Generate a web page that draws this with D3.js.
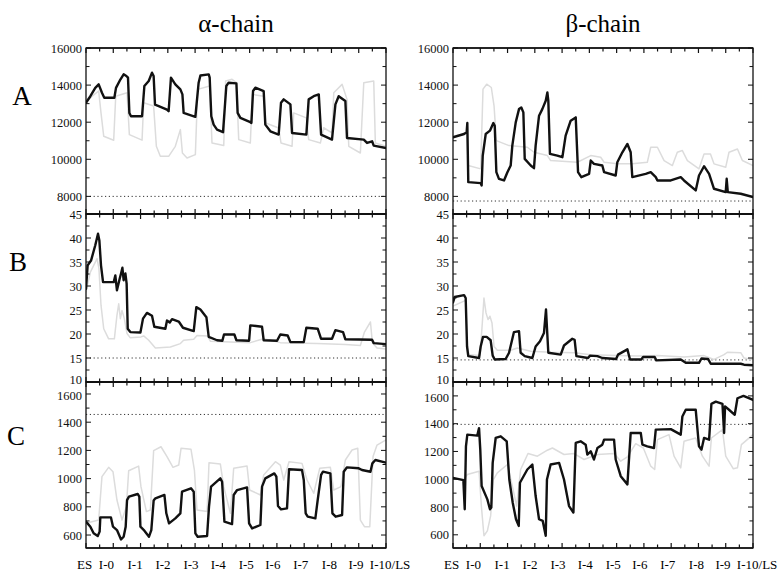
<!DOCTYPE html>
<meta charset="utf-8">
<style>
	body { margin: 0; background: #fff; }
	svg { display: block; font-family: "Liberation Serif", "DejaVu Serif", serif; }
	text { font-family: "Liberation Serif", "DejaVu Serif", serif; }
	.trace { fill: none; stroke-linejoin: round; stroke-linecap: round; }
	.black { stroke: #111; stroke-width: 2.4; }
	.grey { stroke: #dcdcdc; stroke-width: 1.5; }
	.ref { stroke: #333; stroke-width: 1; stroke-dasharray: 1.2,2.6; }
	.frame { fill: none; stroke: #111; stroke-width: 1.3; }
	.tick line { stroke: #111; }
	.tick text { font-size: 12.5px; fill: #111; font-family: "Liberation Serif", "DejaVu Serif", serif; }
</style>
<body>
<svg width="781" height="571"></svg>
<script src="https://cdn.jsdelivr.net/npm/d3@7"></script>
<script>

// x axis: time units, one tick per unit, phase labels
var xTicks = d3.range(0, 23);
var phases = ["ES", "I-0", "I-1", "I-2", "I-3", "I-4", "I-5", "I-6", "I-7", "I-8", "I-9", "I-10/LS"];
var phasePos = [-0.1, 1.5, 3.6, 5.65, 7.7, 9.7, 11.75, 13.7, 15.75, 17.85, 19.8, 22.3];

var titles = ["\u03b1-chain", "\u03b2-chain"];
var rowLabels = ["A", "B", "C"];

// y tick labels per row
var ticksA = [8000, 10000, 12000, 14000, 16000];
var ticksB = [10, 15, 20, 25, 30, 35, 40, 45];
var ticksC = [600, 800, 1000, 1200, 1400, 1600];

// dotted reference levels (alpha, beta)
var alphaRef = [8000, 15, 1455];
var betaRef = [7750, 14.6, 1395];

// ---- alpha-chain traces ----
var alphaA = [[0,13050],[0.32,13400],[0.68,13850],[0.93,14040],[1.17,13590],[1.34,13320],[2.08,13320],[2.2,13850],[2.52,14300],[2.76,14580],[2.96,14490],[3.08,14400],[3.18,12500],[3.3,12320],[4.11,12320],[4.28,13950],[4.6,14220],[4.84,14670],[4.96,14490],[5.06,12950],[5.33,12870],[5.94,12680],[6.06,12590],[6.23,14400],[6.55,14040],[6.92,13770],[7.07,13500],[7.16,12500],[7.53,12410],[8.02,12290],[8.26,14130],[8.39,14520],[9.0,14580],[9.07,14400],[9.19,12320],[9.36,11870],[9.61,11600],[10.05,11460],[10.29,13950],[10.46,14130],[11.03,14090],[11.12,12500],[11.32,12230],[12.05,12000],[12.13,11960],[12.25,13680],[12.42,13860],[13.03,13680],[13.15,11870],[13.52,11510],[14.13,11330],[14.3,13050],[14.5,13230],[14.99,12960],[15.11,11420],[16.16,11330],[16.33,13230],[16.7,13400],[17.07,13500],[17.24,11330],[18.04,11060],[18.29,12960],[18.53,13400],[19.02,13140],[19.14,11150],[20.37,11060],[20.61,10880],[20.98,10970],[21.1,10740],[22,10610]];
var alphaAGrey = [[0,13140],[0.93,13680],[1.1,12500],[1.3,11240],[2.03,11030],[2.18,13400],[3.01,13590],[3.18,11330],[4.11,11030],[4.23,13050],[4.96,12870],[5.16,10700],[5.45,10160],[6.06,10160],[6.55,10700],[6.92,11600],[7.07,10340],[7.41,10070],[8.02,10250],[8.19,13770],[9.07,13950],[9.24,10880],[10.1,10740],[10.24,14220],[10.71,14310],[11.03,14130],[11.2,11060],[12.05,10880],[12.2,13500],[13.03,13400],[13.18,11960],[14.13,11690],[14.3,10880],[15.11,10700],[15.23,12500],[16.16,12230],[16.33,11060],[17.19,10880],[17.43,11700],[18.04,11420],[18.17,13590],[18.78,14040],[19.14,13230],[19.27,10700],[20.12,10340],[20.37,14130],[21.1,14220],[21.22,10880],[22,10700]];

var alphaB = [[0,29.4],[0.12,34.3],[0.37,35.3],[0.68,38.5],[0.88,40.9],[0.98,39.5],[1.1,34.3],[1.25,30.8],[2.03,30.8],[2.15,32.2],[2.27,29.1],[2.47,31.5],[2.57,32.6],[2.67,33.8],[2.76,31.2],[2.89,32.6],[2.98,30.5],[3.06,21.1],[3.25,20.4],[3.99,20.3],[4.18,23.2],[4.47,24.4],[4.84,23.8],[5.01,21.5],[5.82,21.1],[5.94,22.8],[6.14,22.4],[6.31,23.1],[6.8,22.6],[7.11,21.3],[7.9,20.6],[8.09,25.6],[8.39,25.1],[8.83,23.5],[9.0,19.4],[9.61,18.7],[10.0,18.6],[10.12,19.9],[10.88,19.9],[11.03,18.7],[11.96,18.6],[12.05,21.8],[12.91,21.5],[13.03,18.7],[14.01,18.6],[14.25,19.9],[14.79,19.7],[14.99,18.3],[15.97,18.3],[16.16,21.3],[16.99,21.1],[17.24,19.0],[18.04,19.0],[18.29,20.8],[18.85,20.4],[19.02,18.9],[20.98,18.8],[21.1,18.1],[22,17.9]];
var alphaBGrey = [[0,28.8],[0.32,32.9],[0.81,35.7],[0.95,33.6],[1.1,26.0],[1.3,21.1],[1.66,19.0],[2.08,19.0],[2.27,23.9],[2.4,26.3],[2.52,23.2],[2.64,24.9],[2.81,23.2],[3.01,20.1],[3.25,19.2],[4.03,19.4],[4.23,19.6],[4.6,18.7],[5.09,17.1],[6.19,17.3],[6.92,18.0],[7.16,18.7],[7.9,18.9],[8.14,19.7],[8.92,19.6],[9.12,18.5],[12.05,18.2],[13.03,19.0],[14.25,18.2],[16.94,18.0],[19.02,17.8],[20.12,17.6],[20.42,20.4],[20.86,22.5],[21.0,18.2],[21.34,17.1],[22,16.9]];

var alphaC = [[0,695],[0.32,659],[0.56,612],[0.86,593],[1.0,624],[1.05,725],[1.83,725],[1.98,659],[2.27,635],[2.57,569],[2.76,588],[2.91,659],[3.01,848],[3.15,872],[3.79,891],[3.91,872],[3.99,659],[4.28,631],[4.62,588],[4.79,635],[4.96,844],[5.09,860],[5.75,884],[5.89,754],[6.09,683],[6.55,718],[6.92,754],[7.04,907],[7.7,931],[7.9,907],[8.02,612],[8.19,588],[8.88,593],[9.02,801],[9.17,943],[9.85,1002],[9.98,978],[10.15,695],[10.71,678],[10.83,884],[11.08,919],[11.81,938],[11.96,683],[12.18,647],[12.79,671],[12.91,943],[13.15,1002],[13.81,1037],[13.96,1014],[14.08,806],[14.3,782],[14.74,789],[14.89,1066],[15.84,1061],[15.97,990],[16.11,754],[16.26,730],[16.82,718],[16.99,848],[17.24,1026],[17.38,1049],[17.92,1037],[18.07,754],[18.31,730],[18.78,742],[18.9,1049],[19.14,1080],[20.0,1073],[20.24,1061],[20.86,1049],[21.0,1108],[21.22,1132],[22,1113]];
var alphaCGrey = [[0,683],[0.93,706],[1.17,1014],[1.66,1080],[1.98,1049],[2.27,848],[2.64,706],[2.96,801],[3.13,1056],[3.86,1089],[4.03,943],[4.43,766],[4.72,777],[4.96,1198],[5.5,1226],[5.94,1156],[6.38,1080],[6.8,1096],[6.97,1215],[7.7,1208],[7.95,1061],[8.14,777],[8.88,766],[9.02,1113],[9.85,1104],[10.1,943],[10.59,754],[10.83,1073],[11.81,1089],[12.0,919],[12.79,884],[13.03,1026],[13.89,1120],[14.25,1096],[14.5,990],[14.89,1120],[15.84,1108],[16.21,990],[16.7,896],[17.14,1073],[17.92,1080],[18.17,919],[18.7,943],[19.02,1132],[19.51,1203],[19.93,1215],[20.12,706],[20.42,659],[20.81,659],[21.05,1156],[21.34,1238],[22,1274]];

// ---- beta-chain traces ----
var betaA = [[0,11185],[0.81,11364],[1.0,11453],[1.05,11955],[1.12,8768],[2.03,8715],[2.1,8590],[2.18,10200],[2.4,11364],[2.71,11543],[2.96,11955],[3.06,11811],[3.18,9305],[3.37,8947],[3.74,8858],[3.99,9305],[4.23,9663],[4.35,10737],[4.6,11990],[4.84,12706],[5.01,12796],[5.16,12527],[5.26,10021],[5.7,9663],[5.94,9520],[6.06,10737],[6.31,12348],[6.55,12706],[6.8,13154],[6.92,13601],[6.99,13154],[7.11,10290],[7.65,10200],[8.02,10111],[8.26,11274],[8.63,12080],[9.0,12259],[9.17,9305],[9.41,9037],[9.98,9216],[10.1,9932],[10.34,9753],[10.95,9663],[11.08,9305],[11.93,9126],[12.05,9842],[12.42,10379],[12.79,10827],[13.03,10379],[13.15,9037],[14.13,9216],[14.5,9305],[14.87,9037],[14.99,8858],[15.97,8858],[16.7,9037],[16.94,8858],[17.8,8321],[18.04,9126],[18.41,9627],[18.78,9216],[19.14,8410],[20.0,8232],[20.07,8947],[20.15,8232],[21.1,8142],[22,7963]];
var betaAGrey = [[0,11240],[1.0,11420],[1.12,9663],[2.03,9484],[2.2,13780],[2.47,14049],[2.81,13870],[3.01,12885],[3.18,11006],[4.11,10737],[5.45,10648],[5.94,10379],[6.92,10200],[7.16,9932],[9.12,9842],[10.1,10200],[10.83,10111],[11.08,9842],[12.05,9753],[13.15,9753],[14.25,9842],[14.5,10648],[14.99,10648],[15.48,9932],[16.09,9663],[16.45,10379],[16.82,10469],[17.19,9932],[18.04,9484],[18.41,10290],[18.88,10290],[19.14,9753],[20.0,9574],[20.24,10379],[20.86,10558],[21.22,9932],[22,9663]];

var betaB = [[0,26.6],[0.12,27.7],[0.81,28.1],[0.93,27.5],[1.03,17.4],[1.12,15.4],[1.91,15.0],[2.03,17.4],[2.2,19.4],[2.47,19.4],[2.76,18.7],[2.91,15.5],[3.06,14.7],[3.86,14.8],[4.11,16.1],[4.47,20.4],[4.84,20.6],[4.96,16.1],[5.26,15.4],[5.82,15.0],[6.06,17.4],[6.38,18.5],[6.67,20.2],[6.82,25.1],[6.89,21.3],[6.99,16.1],[7.9,15.7],[8.14,17.6],[8.75,19.0],[8.92,18.8],[9.05,15.4],[9.9,15.0],[10.05,15.5],[10.59,15.4],[10.95,15.0],[11.96,14.8],[12.1,15.7],[12.79,16.8],[12.98,14.7],[13.81,14.7],[13.94,15.2],[14.79,15.2],[14.91,14.5],[16.7,14.7],[17.07,14.0],[18.04,14.0],[18.22,14.9],[18.7,14.8],[18.9,13.8],[21.1,13.8],[21.34,13.6],[22,13.5]];
var betaBGrey = [[0,25.8],[0.93,27.0],[1.05,17.4],[1.17,15.7],[1.98,15.5],[2.15,22.3],[2.27,27.5],[2.42,24.4],[2.57,23.0],[2.71,23.7],[2.86,22.3],[3.01,17.4],[3.25,16.6],[4.23,16.6],[4.72,17.1],[5.7,16.4],[7.16,16.2],[8.88,16.1],[10.1,15.7],[12.05,15.5],[13.52,15.4],[14.99,15.5],[16.94,15.2],[18.41,15.5],[19.14,14.7],[19.88,15.7],[20.12,16.2],[21.1,16.1],[21.34,15.0],[22,14.7]];

var betaC = [[0,1010],[0.76,994],[0.86,784],[0.95,1237],[1.05,1321],[1.78,1314],[1.91,1368],[2.0,1213],[2.1,951],[2.52,855],[2.71,784],[2.81,796],[2.91,1118],[3.13,1297],[3.5,1309],[3.94,1273],[4.13,998],[4.38,831],[4.62,712],[4.82,664],[4.91,975],[5.45,1070],[5.82,1106],[6.06,879],[6.31,712],[6.58,700],[6.8,593],[6.89,998],[7.16,1106],[7.78,1118],[8.14,998],[8.51,807],[8.83,760],[9.0,1261],[9.36,1273],[9.73,1249],[9.85,1178],[10.1,1201],[10.34,1142],[10.59,1225],[10.95,1249],[11.08,1285],[11.81,1285],[11.93,1142],[12.3,1022],[12.79,963],[13.03,1333],[13.77,1333],[13.89,1249],[14.25,1237],[14.74,1225],[14.87,1357],[15.97,1361],[16.7,1321],[16.82,1452],[17.07,1500],[17.8,1500],[18.04,1237],[18.22,1213],[18.41,1297],[18.78,1285],[18.95,1543],[19.27,1559],[19.76,1543],[19.88,1333],[19.95,1524],[20.24,1500],[20.66,1464],[20.86,1583],[21.3,1600],[22,1571]];
var betaCGrey = [[0,1003],[0.81,998],[1.05,1034],[1.91,1058],[2.08,807],[2.27,593],[2.52,628],[2.76,736],[2.96,998],[3.25,1046],[3.99,1106],[4.35,951],[4.67,807],[4.96,1070],[5.5,1185],[6.19,1166],[6.92,1209],[7.29,1225],[8.14,1178],[8.88,1185],[9.61,1142],[10.59,1178],[11.81,1185],[12.3,1130],[12.79,1161],[13.4,1256],[13.96,1225],[14.5,1094],[14.79,1070],[14.99,1285],[15.84,1321],[16.21,1166],[16.7,1082],[16.94,1273],[17.8,1297],[18.29,1166],[18.78,1094],[18.95,1297],[19.76,1357],[20.0,1166],[20.56,1075],[20.86,1082],[21.15,1249],[22,1321]];

// ---- layout ----
var svg = d3.select("svg");
var columns = [
	{ x0: 86, x1: 386, title: titles[0], ref: alphaRef,
	  domains: [[7050, 16000], [10, 45], [508, 1685]],
	  black: [alphaA, alphaB, alphaC], grey: [alphaAGrey, alphaBGrey, alphaCGrey] },
	{ x0: 453, x1: 753, title: titles[1], ref: betaRef,
	  domains: [[7050, 16000], [10, 45], [505, 1700]],
	  black: [betaA, betaB, betaC], grey: [betaAGrey, betaBGrey, betaCGrey] }
];
var rows = [
	{ y0: 48, y1: 214, ticks: ticksA, minor: 1000 },
	{ y0: 214, y1: 382, ticks: ticksB, minor: 2.5 },
	{ y0: 382, y1: 548, ticks: ticksC, minor: 100 }
];
var rowLabelPos = [[22, 105], [18, 271], [16, 445]];

rowLabels.forEach(function(l, i) {
	svg.append("text")
		.attr("x", rowLabelPos[i][0]).attr("y", rowLabelPos[i][1])
		.attr("text-anchor", "middle")
		.style("font-size", "27px")
		.text(l);
});

columns.forEach(function(col, ci) {
	var x = d3.scaleLinear().domain([0, 22]).range([col.x0, col.x1]);

	svg.append("text")
		.attr("x", (col.x0 + col.x1) / 2).attr("y", 32)
		.attr("text-anchor", "middle")
		.style("font-size", "25px")
		.text(col.title);

	rows.forEach(function(row, ri) {
		var dom = col.domains[ri];
		var y = d3.scaleLinear().domain(dom).range([row.y1, row.y0]);
		var g = svg.append("g");
		var clipId = "clip" + ci + ri;

		g.append("clipPath").attr("id", clipId)
			.append("rect")
			.attr("x", col.x0).attr("y", row.y0)
			.attr("width", col.x1 - col.x0).attr("height", row.y1 - row.y0);

		var line = d3.line()
			.x(function(d) { return x(d[0]); })
			.y(function(d) { return y(d[1]); });

		var plot = g.append("g").attr("clip-path", "url(#" + clipId + ")");

		plot.append("line").attr("class", "ref")
			.attr("x1", col.x0).attr("x2", col.x1)
			.attr("y1", y(col.ref[ri])).attr("y2", y(col.ref[ri]));

		plot.append("path").attr("class", "trace grey")
			.attr("d", line(col.grey[ri]));
		plot.append("path").attr("class", "trace black")
			.attr("d", line(col.black[ri]));

		// left labels
		var labelAxis = d3.axisLeft(y).tickValues(row.ticks).tickSize(0).tickPadding(4)
			.tickFormat(d3.format("d"));
		var ax = g.append("g").attr("transform", "translate(" + col.x0 + ",0)")
			.call(labelAxis);
		ax.select(".domain").remove();
		ax.attr("font-family", null).attr("font-size", null);
		// keep the stacked labels at row joins apart
		ax.selectAll(".tick text").attr("dy", function(d) {
			if (ri === 1 && d === 10) return "0.15em";
			if (ri === 2 && d === 1600) return "0.45em";
			return "0.32em";
		});

		// inner tick marks on both sides
		var minorVals = d3.range(Math.ceil(dom[0] / row.minor) * row.minor, dom[1] + 1e-9, row.minor);
		minorVals.forEach(function(v) {
			var major = row.ticks.indexOf(v) >= 0;
			var len = major ? 5 : 3.5;
			g.append("line").attr("stroke", "#111")
				.attr("x1", col.x0).attr("x2", col.x0 + len)
				.attr("y1", y(v)).attr("y2", y(v));
			g.append("line").attr("stroke", "#111")
				.attr("x1", col.x1).attr("x2", col.x1 - len)
				.attr("y1", y(v)).attr("y2", y(v));
		});

		g.append("rect").attr("class", "frame")
			.attr("x", col.x0).attr("y", row.y0)
			.attr("width", col.x1 - col.x0).attr("height", row.y1 - row.y0);
	});

	// horizontal boundaries with x ticks
	var bounds = [rows[0].y0, rows[0].y1, rows[1].y1, rows[2].y1];
	bounds.forEach(function(by, bi) {
		svg.append("line")
			.attr("x1", col.x0).attr("x2", col.x1)
			.attr("y1", by).attr("y2", by)
			.attr("stroke", "#111").attr("stroke-width", (bi === 0 || bi === 3) ? 1.3 : 2);
		xTicks.forEach(function(t) {
			var len = (t % 2 === 0) ? 5 : 3.5;
			var up = (bi === 0) ? 0 : len;
			var down = (bi === 3) ? 0 : len;
			svg.append("line").attr("stroke", "#111").attr("stroke-width", 1.2)
				.attr("x1", x(t)).attr("x2", x(t))
				.attr("y1", by - up).attr("y2", by + down);
		});
	});

	// phase labels
	svg.append("g").selectAll("text")
		.data(phases)
		.enter().append("text")
		.attr("x", function(d, i) { return x(phasePos[i]); })
		.attr("y", 569)
		.attr("text-anchor", "middle")
		.style("font-size", "13px")
		.text(function(d) { return d; });
});

</script>
</body>
